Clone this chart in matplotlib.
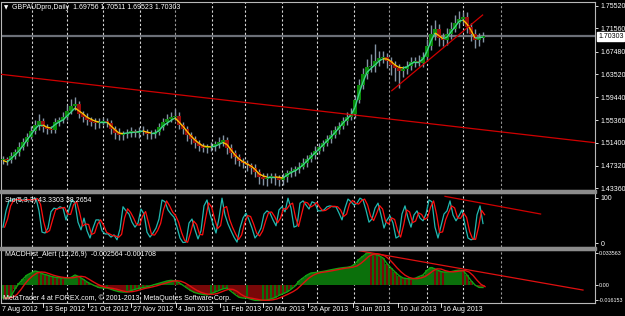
import numpy as np
import pandas as pd
import matplotlib
matplotlib.use('Agg')
import matplotlib.pyplot as plt
from matplotlib.collections import LineCollection
from matplotlib.patches import Rectangle

plt.rcParams['font.family'] = ['Liberation Sans', 'DejaVu Sans']

# ---------------- data ----------------
first_open = 1.4840
close = [1.4850, 1.4835, 1.4900, 1.4975, 1.5060, 1.5150, 1.5250, 1.5350, 1.5450, 1.5520,
         1.5420, 1.5380, 1.5370, 1.5500, 1.5540, 1.5600, 1.5700, 1.5780, 1.5820, 1.5650,
         1.5600, 1.5540, 1.5500, 1.5480, 1.5510, 1.5520, 1.5490, 1.5380, 1.5320, 1.5270,
         1.5290, 1.5320, 1.5340, 1.5310, 1.5350, 1.5330, 1.5300, 1.5290, 1.5330, 1.5420,
         1.5500, 1.5560, 1.5600, 1.5620, 1.5460, 1.5380, 1.5280, 1.5200, 1.5130, 1.5080,
         1.5050, 1.5060, 1.5080, 1.5110, 1.5160, 1.5190, 1.5050, 1.4960, 1.4880, 1.4820,
         1.4780, 1.4740, 1.4700, 1.4620, 1.4540, 1.4500, 1.4520, 1.4550, 1.4510, 1.4490,
         1.4530, 1.4600, 1.4640, 1.4670, 1.4720, 1.4780, 1.4850, 1.4920, 1.4990, 1.5060,
         1.5130, 1.5200, 1.5280, 1.5360, 1.5440, 1.5520, 1.5590, 1.5650, 1.5900, 1.6150,
         1.6350, 1.6480, 1.6500, 1.6580, 1.6640, 1.6660, 1.6580, 1.6520, 1.6450, 1.6410,
         1.6440, 1.6500, 1.6560, 1.6580, 1.6550, 1.6650, 1.6850, 1.7050, 1.7150, 1.6990,
         1.6960, 1.7050, 1.7150, 1.7250, 1.7330, 1.7360, 1.7180, 1.7050, 1.6950, 1.6980,
         1.7030]
wick_up = [6, 4, 7, 6, 9, 7, 6, 8, 9, 12,
           6, 5, 6, 8, 6, 9, 10, 13, 12, 6,
           5, 6, 5, 8, 6, 5, 6, 5, 6, 8,
           5, 6, 8, 5, 6, 8, 5, 6, 5, 6,
           8, 9, 8, 11, 6, 5, 6, 5, 6, 5,
           6, 5, 8, 6, 9, 8, 5, 6, 5, 6,
           5, 6, 5, 6, 5, 6, 8, 6, 5, 6,
           8, 6, 8, 6, 8, 9, 8, 6, 9, 8,
           6, 8, 9, 8, 6, 8, 9, 11, 9, 12,
           11, 14, 20, 30, 11, 9, 6, 8, 6, 8,
           6, 8, 9, 8, 11, 9, 12, 16, 15, 8,
           9, 11, 12, 15, 13, 9, 9, 8, 9, 10,
           6]
wick_dn = [8, 9, 6, 5, 6, 5, 6, 5, 6, 8,
           9, 8, 6, 5, 6, 5, 6, 5, 6, 8,
           9, 8, 6, 9, 8, 6, 8, 9, 11, 9,
           8, 6, 8, 6, 8, 6, 9, 8, 6, 5,
           6, 5, 6, 5, 8, 9, 11, 9, 8, 9,
           8, 9, 6, 8, 6, 8, 11, 9, 11, 9,
           8, 9, 11, 9, 12, 11, 13, 9, 11, 12,
           9, 8, 6, 8, 6, 5, 6, 5, 6, 5,
           6, 5, 6, 5, 6, 5, 6, 5, 8, 6,
           6, 8, 9, 11, 8, 9, 12, 18, 22, 30,
           11, 9, 8, 9, 6, 8, 6, 8, 9, 14,
           12, 9, 8, 6, 8, 9, 11, 12, 14, 11,
           6]
ma = [1.4829, 1.4801, 1.4859, 1.4924, 1.4995, 1.5088, 1.5189, 1.5282, 1.5383, 1.5453,
      1.5453, 1.5413, 1.5399, 1.5459, 1.5506, 1.5541, 1.5612, 1.5682, 1.5753, 1.5702,
      1.5651, 1.5591, 1.5554, 1.5522, 1.5506, 1.5506, 1.5506, 1.5436, 1.5370, 1.5310,
      1.5302, 1.5312, 1.5319, 1.5326, 1.5335, 1.5347, 1.5328, 1.5312, 1.5312, 1.5353,
      1.5436, 1.5487, 1.5534, 1.5577, 1.5506, 1.5430, 1.5342, 1.5259, 1.5189, 1.5130,
      1.5083, 1.5072, 1.5065, 1.5077, 1.5111, 1.5145, 1.5109, 1.5016, 1.4924, 1.4854,
      1.4806, 1.4765, 1.4730, 1.4672, 1.4591, 1.4555, 1.4536, 1.4536, 1.4536, 1.4531,
      1.4518, 1.4570, 1.4614, 1.4644, 1.4690, 1.4748, 1.4818, 1.4889, 1.4959, 1.5030,
      1.5100, 1.5171, 1.5242, 1.5319, 1.5404, 1.5488, 1.5559, 1.5630, 1.5764, 1.6000,
      1.6212, 1.6381, 1.6452, 1.6511, 1.6582, 1.6621, 1.6617, 1.6575, 1.6511, 1.6469,
      1.6462, 1.6476, 1.6534, 1.6564, 1.6564, 1.6617, 1.6751, 1.6935, 1.7076, 1.7028,
      1.6977, 1.7002, 1.7097, 1.7182, 1.7280, 1.7305, 1.7235, 1.7123, 1.6988, 1.6991,
      1.7005]
# stochastic %K, sampled every 0.75 bar
stoch_k = [35, 71, 93, 95, 97, 95, 93, 97, 95, 95,
           97, 99, 71, 24, 22, 33, 69, 77, 75, 80,
           77, 51, 75, 95, 88, 46, 29, 55, 27, 11,
           33, 51, 51, 27, 20, 20, 13, 18, 7, 31,
           80, 71, 64, 46, 35, 44, 75, 64, 24, 13,
           22, 33, 53, 95, 91, 73, 64, 57, 35, 11,
           1, 2, 44, 53, 29, 9, 27, 82, 95, 64,
           42, 22, 55, 99, 62, 42, 27, 13, 2, 33,
           55, 66, 51, 33, 11, 20, 33, 64, 71, 66,
           51, 38, 73, 80, 69, 99, 77, 35, 38, 88,
           93, 84, 75, 91, 88, 71, 71, 73, 80, 82,
           80, 80, 66, 51, 77, 97, 91, 84, 88, 99,
           95, 73, 46, 53, 77, 88, 62, 33, 51, 60,
           44, 11, 15, 64, 82, 55, 35, 62, 71, 55,
           49, 64, 95, 91, 35, 11, 38, 64, 71, 93,
           62, 49, 60, 73, 40, 11, 7, 9, 62, 82,
           43]
# MACD main, in units of 0.001
macd_milli = [-13.7, -13.7, -11.6, -4.2, 1.7, 6.3, 10.5, 12.6, 14.7, 13.7,
              11.6, 10.5, 9.1, 8.2, 7.8, 7.4, 7.4, 8.0, 10.5, 8.8,
              6.2, 3.2, 1.1, -0.9, -2.7, -3.2, -3.2, -4.5, -5.9, -7.0,
              -7.4, -7.4, -5.9, -4.6, -3.5, -2.7, -2.1, -0.7, 0.6, 1.8,
              3.0, 4.2, 4.9, 4.3, 2.5, -0.3, -3.2, -6.0, -8.0, -9.1,
              -9.9, -10.5, -9.1, -7.5, -5.7, -4.1, -3.2, -6.6, -9.9, -12.9,
              -13.7, -13.7, -15.0, -16.1, -16.15, -16.0, -15.8, -14.7, -13.2, -10.9,
              -9.1, -7.4, -4.5, -1.1, 4.2, 7.4, 10.5, 12.6, 13.1, 13.7,
              14.3, 15.1, 16.0, 16.8, 17.6, 18.2, 18.6, 19.5, 22.0, 26.9,
              30.3, 33.56, 32.8, 32.1, 30.9, 28.4, 22.5, 17.9, 13.7, 9.9,
              7.4, 6.7, 6.4, 7.0, 8.9, 10.5, 15.5, 18.4, 17.0, 14.9,
              13.7, 13.7, 14.0, 15.0, 15.6, 15.1, 10.5, 4.6, 0.0, -2.5,
              -2.6]

price_ticks = [1.75520, 1.71560, 1.67480, 1.63520, 1.59440, 1.55360, 1.51400, 1.47320, 1.43360]
last_price = 1.70303
date_labels = ['7 Aug 2012', '13 Sep 2012', '21 Oct 2012', '27 Nov 2012', '4 Jan 2013',
               '11 Feb 2013', '20 Mar 2013', '26 Apr 2013', '3 Jun 2013', '10 Jul 2013',
               '16 Aug 2013']
date_pos = [-0.25, 10.5, 21.75, 32.5, 43.75, 54.75, 65.5, 76.75, 88.0, 99.25, 110.0]
grid_pos = [7.25, 16, 25, 34.25, 43, 52.25, 60.5, 69.75, 78.5, 87.75, 96.5, 106, 115, 124.5]
grid_gray = [43, 96.5, 124.5]
trend_main_x, trend_main_y = [-0.5, 148], [1.6347, 1.5141]
trend_up_x, trend_up_y = [97.2, 119.9], [1.6058, 1.7393]
trend_sto_x, trend_sto_y = [110.5, 134.4], [103, 64]
trend_macd_x, trend_macd_y = [88, 145], [0.0368, -0.0053]

title = 'GBPAUDpro,Daily  1.69756 1.70511 1.69523 1.70303'
sto_label = 'Sto(5,3,3) 43.3303 38.2654'
macd_label = 'MACDHist_Alert (12,26,9)  -0.002564 -0.001708'
footer = 'MetaTrader 4 at FOREX.com, \u00a9 2001-2013, MetaQuotes Software Corp.'

# ---------------- figure ----------------
W, H = 625, 316
fig = plt.figure(figsize=(W / 100, H / 100), dpi=100, facecolor='black')


def fx(px):
    return px / W


def fy(py):
    return 1 - py / H


def add_ax(top, bot, lsize=5, pad=2):
    ax = fig.add_axes([fx(1), fy(bot), (595 - 1) / W, (bot - top) / H])
    ax.set_facecolor('black')
    for s in ax.spines.values():
        s.set_color('#B8B8B8')
        s.set_linewidth(0.8)
    ax.set_xlim(-0.5, 148)
    ax.set_xticks([])
    ax.yaxis.tick_right()
    ax.tick_params(axis='y', colors='white', labelsize=lsize, length=2, width=0.6, pad=pad)
    for g in grid_pos:
        col = '#9A9A9A' if g in grid_gray else '#D8D8D8'
        ax.axvline(g, color=col, lw=0.8, ls=(0, (2, 2)), zorder=1)
    return ax


ax1 = add_ax(2, 190)
ax2 = add_ax(193, 247)
ax3 = add_ax(250, 303, lsize=3.9, pad=1)

# separators
for y0, y1 in [(190, 193), (247, 250)]:
    fig.patches.append(Rectangle((0, fy(y1)), fx(596), (y1 - y0) / H,
                                 transform=fig.transFigure, color='#8C8C8C', zorder=5))

# ---- main price panel ----
n = len(close)
x = np.arange(n)
c = np.array(close)
o = np.array([first_open] + close[:-1])
hi = np.maximum(o, c) + np.array(wick_up) * 0.001
lo = np.minimum(o, c) - np.array(wick_dn) * 0.001
ax1.vlines(x, lo, hi, color='#8494A4', lw=1.0, zorder=2)
up = c >= o
body_h = np.maximum(np.abs(c - o), 0.0012)
ax1.bar(x[up], body_h[up], bottom=np.minimum(o, c)[up], width=0.85, color='#0A8A0A', zorder=3)
ax1.bar(x[~up], body_h[~up], bottom=np.minimum(o, c)[~up], width=0.85, color='#9A0C0C', zorder=3)

m = np.array(ma)
segs = [[(x[k], m[k]), (x[k + 1], m[k + 1])] for k in range(n - 1)]
cols = ['#3ED48C' if m[k + 1] >= m[k] else '#FFC000' for k in range(n - 1)]
ax1.add_collection(LineCollection(segs, colors=cols, linewidths=1.0, zorder=4))

ax1.axhline(last_price, color='#6C7078', lw=1.6, zorder=1.5)
ax1.plot(trend_main_x, trend_main_y, color='#D00000', lw=0.9, zorder=4)
ax1.plot(trend_up_x, trend_up_y, color='#D00000', lw=0.9, zorder=4)
ax1.set_ylim(1.7552 - 184 * 0.0017637, 1.7552 + 4 * 0.0017637)
ax1.set_yticks(price_ticks)
ax1.set_yticklabels([f'{t:.5f}' for t in price_ticks])

# ---- stochastic panel ----
k = np.array(stoch_k, dtype=float)
xs = np.arange(len(k)) * 0.75
d = pd.Series(k).rolling(2, min_periods=1).mean().values
ax2.plot(xs, k, color='#20B8B0', lw=0.9, zorder=3)
ax2.plot(xs + 0.4, d, color='#FF1010', lw=0.9, zorder=4)
ax2.plot(trend_sto_x, trend_sto_y, color='#D00000', lw=0.9, zorder=4)
ax2.set_ylim((243 - 247) * 2.208, (243 - 193) * 2.208)
ax2.set_yticks([100, 0])
ax2.set_yticklabels(['100', '0'])

# ---- MACD panel ----
green_h, red_h = '#0B700B', '#780808'
mv = np.array(macd_milli) * 0.001
sig = pd.Series(mv).rolling(3, min_periods=1).mean().values
falling = np.r_[False, np.diff(mv) < 0]
pos = mv >= 0
ax3.bar(x[pos], mv[pos], width=1.0, color=green_h, zorder=2)
ax3.bar(x[~pos], mv[~pos], width=1.0, color=red_h, zorder=2)
sr = pos & falling
sg = (~pos) & (~falling)
ax3.bar(x[sr], mv[sr], width=0.45, color=red_h, zorder=2.5)
ax3.bar(x[sg], mv[sg], width=0.45, color=green_h, zorder=2.5)
ax3.plot(x, mv, color='#12A012', lw=1.0, zorder=3)
ax3.plot(x + 0.5, sig, color='#E01010', lw=1.0, zorder=4)
ax3.plot(trend_macd_x, trend_macd_y, color='#E01010', lw=0.9, zorder=4)
ax3.set_ylim(-(303 - 285) / 952, (285 - 250) / 952)
ax3.set_yticks([0.033563, 0.0, -0.016153])
ax3.set_yticklabels(['0.033563', '0.00', '-0.016153'])

# ---- texts ----
fs = 5
fig.text(fx(4), fy(7.5), '\u25bc', color='white', fontsize=4, va='center', ha='left',
         family=['DejaVu Sans'])
fig.text(fx(12), fy(7.5), title, color='white', fontsize=fs, va='center', ha='left')
fig.text(fx(598), fy(36.5), f'{last_price:.5f}', color='black', fontsize=fs, va='center',
         ha='left', bbox=dict(facecolor='white', edgecolor='white', pad=0.6), zorder=10)
fig.text(fx(5), fy(200.5), sto_label, color='white', fontsize=fs, va='center', ha='left')
fig.text(fx(5), fy(255), macd_label, color='white', fontsize=fs, va='center', ha='left')
fig.text(fx(3), fy(298), footer, color='white', fontsize=fs, va='center', ha='left', zorder=10)

for lab, p in zip(date_labels, date_pos):
    px = 3 + 4 * p
    fig.text(fx(px), fy(309.5), lab, color='white', fontsize=fs, va='center', ha='left')
    if p > 0:
        fig.lines.append(plt.Line2D([fx(px - 2), fx(px - 2)], [fy(303), fy(307)],
                                    transform=fig.transFigure, color='white', lw=0.6))

fig.savefig('out.png', dpi=100, facecolor='black')
